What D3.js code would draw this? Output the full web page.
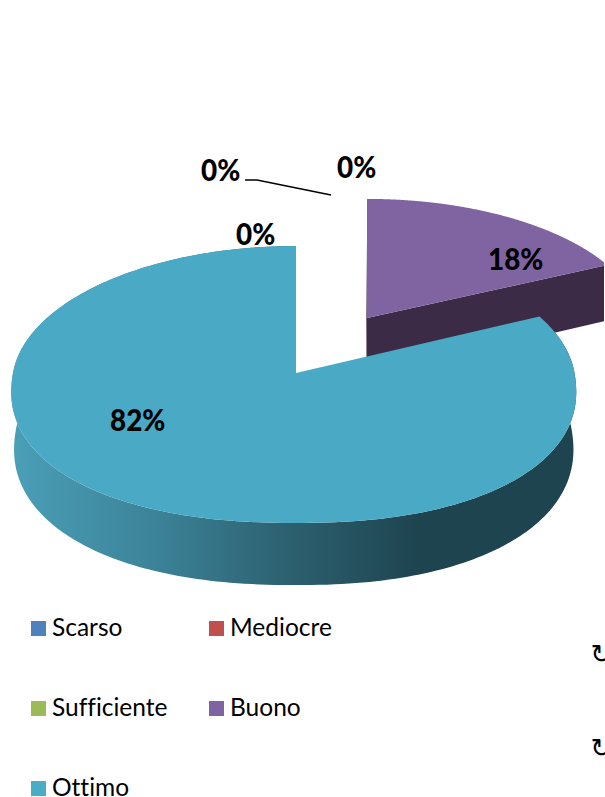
<!DOCTYPE html>
<html>
<head>
<meta charset="utf-8">
<script src="https://cdn.jsdelivr.net/npm/d3@7"></script>
<style>
html,body{margin:0;padding:0;background:#fff;overflow:hidden}
svg{display:block}
text{font-family:Lato,"Open Sans",sans-serif;fill:#000;font-variant-ligatures:none}
</style>
</head>
<body>
<div id="chart"></div>
<script>
const categories = ["Scarso","Mediocre","Sufficiente","Buono","Ottimo"];
const percentages = [0,0,0,18,82];
const colors = ["#4f81bd","#c0504d","#9bbb59","#8064a2","#4aa9c4"];
const wallColors = {Buono:"#3b2b47"};
const wallStops = [[0,"#4a9fb7"],[0.25,"#3c8399"],[0.5,"#2c5f6e"],[0.72,"#1e4450"],[1,"#1e4450"]];

const W=605,H=797;
const svg=d3.select("#chart").append("svg").attr("width",W).attr("height",H);
const defs=svg.append("defs");
defs.append("clipPath").attr("id","page").append("rect").attr("width",604).attr("height",H);
const grad=defs.append("linearGradient").attr("id","wall").attr("gradientUnits","userSpaceOnUse")
  .attr("x1",12).attr("x2",576).attr("y1",0).attr("y2",0);
grad.selectAll("stop").data(wallStops).join("stop").attr("offset",d=>d[0]).attr("stop-color",d=>d[1]);

const pie=d3.pie().value(d=>d).sort(null).startAngle(0).endAngle(2*Math.PI);
const arcs=pie(percentages);

const persp=0.083, box=0.89;
const geom={
  Buono:{x:367,y:318,rl:275,rr:275,k:129,d:58,shrink:0.99},
  Ottimo:{x:296,y:373,rl:283,rr:278.5,k:137.5,d:57,shrink:0.99}
};
function project(g,a,lower){
  let u=Math.sin(a),v=Math.cos(a);
  if(v<0){ // the front of the disc reads slightly squarer than an ellipse
    u=Math.sign(u)*Math.pow(Math.abs(u),box);
    v=-Math.pow(-v,box);
  }
  const w=1+persp*v;
  const r=u<0?g.rl:g.rr;
  const s=lower?g.shrink:1;
  return [g.x+s*r*u/w, g.y-g.k*v/w+(lower?g.d/w:0)];
}
const line=d3.line().curve(d3.curveLinear);
const steps=a=>d3.range(0,241).map(i=>d3.interpolateNumber(a.startAngle,a.endAngle)(i/240));

const plot=svg.append("g").attr("clip-path","url(#page)");

function drawSlice(name){
  const i=categories.indexOf(name),a=arcs[i],g=geom[name],ang=steps(a);
  const topArc=ang.map(t=>project(g,t,false));
  const botArc=ang.map(t=>project(g,t,true));
  if(name==="Ottimo"){
    plot.append("path").attr("d",line(topArc.concat(botArc.slice().reverse()))+"Z").attr("fill","url(#wall)");
  } else {
    const endT=topArc[topArc.length-1],endB=botArc[botArc.length-1];
    plot.append("path").attr("d",line([[g.x,g.y],endT,endB,[g.x,g.y+g.d]])+"Z").attr("fill",wallColors[name]);
    plot.append("path").attr("d",line([[g.x-1,g.y-80],[g.x,g.y],[g.x+1,g.y+40],[g.x-0.5,g.y+40]])+"Z").attr("fill",wallColors[name]);
  }
  plot.append("path").attr("d",line([[g.x,g.y]].concat(topArc))+"Z").attr("fill",colors[i]);
}
drawSlice("Buono");
drawSlice("Ottimo");

svg.append("path").attr("d",line([[245,180],[257,180],[331,195]])).attr("fill","none").attr("stroke","#000").attr("stroke-width",1.5);

const labelPos=[[201,181],[337,178],[236,245],[488,270],[110,431]];
svg.selectAll("text.lab").data(arcs).join("text").attr("class","lab")
  .attr("transform",(d,i)=>`translate(${labelPos[i][0]},${labelPos[i][1]}) scale(0.93,1)`)
  .attr("font-size",30).attr("font-weight",900)
  .text(d=>d.value+"%");

const legendPos=[[31,636],[209,636],[31,716],[209,716],[31,796]];
const lg=svg.selectAll("g.leg").data(categories).join("g").attr("class","leg")
  .attr("transform",(d,i)=>`translate(${legendPos[i][0]},${legendPos[i][1]})`);
lg.append("rect").attr("x",0).attr("y",-15).attr("width",15).attr("height",15).attr("fill",(d,i)=>i===4?"#4aacc5":colors[i]);
lg.append("text").attr("x",21).attr("y",0).attr("font-size",24.5).text(d=>d);

const stray=[["↻",663],["↻",757]];
svg.selectAll("text.stray").data(stray).join("text").attr("class","stray")
  .attr("x",590.5).attr("y",d=>d[1]).attr("font-size",26).style("font-family","'DejaVu Sans'").text(d=>d[0]);
</script>
</body>
</html>
